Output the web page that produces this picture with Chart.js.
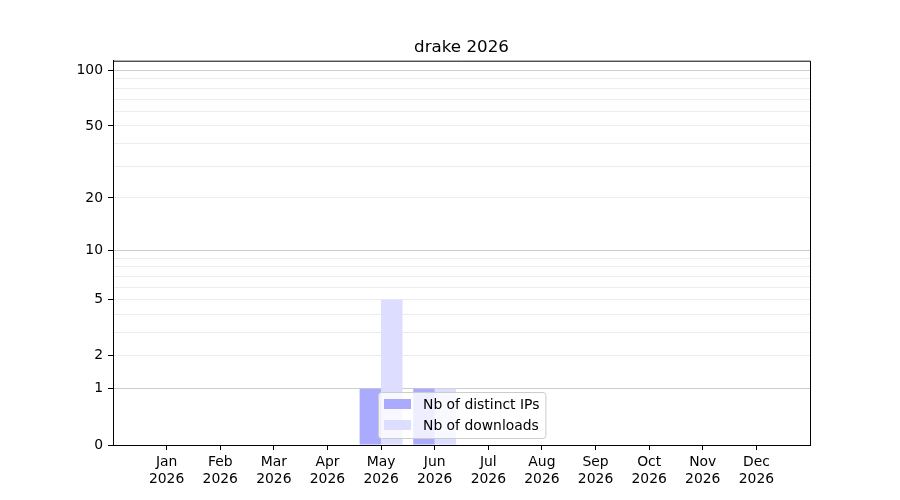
<!DOCTYPE html>
<html>
<head>
<meta charset="utf-8">
<script src="https://cdn.jsdelivr.net/npm/chart.js@4/dist/chart.umd.min.js"></script>
<style>
  body { margin: 0; background: #fff; }
  #wrap { width: 900px; height: 500px; }
</style>
</head>
<body>
<div id="wrap"><canvas id="chart" width="900" height="500"></canvas></div>
<script>
// chart data
const months = ['Jan', 'Feb', 'Mar', 'Apr', 'May', 'Jun', 'Jul', 'Aug', 'Sep', 'Oct', 'Nov', 'Dec'];
const year = '2026';
const title = 'drake 2026';
const distinctIps = [0, 0, 0, 0, 1, 1, 0, 0, 0, 0, 0, 0];
const downloads = [0, 0, 0, 0, 5, 1, 0, 0, 0, 0, 0, 0];
const yTicks = [0, 1, 2, 3, 4, 5, 6, 7, 8, 9, 10, 20, 30, 40, 50, 60, 70, 80, 90, 100];
const yLabelled = [0, 1, 2, 5, 10, 20, 50, 100];
const yMajorGrid = [1, 10, 100];
const yMax = 113;

const FONT = '"DejaVu Sans", sans-serif';

// y axis of matplotlib's look: position goes with log10(1 + v)
const LinearScale = Chart.LinearScale || Chart.scales.LinearScale;
class Log1pScale extends LinearScale {
    buildTicks() {
        return yTicks.map(v => ({ value: v }));
    }
    configure() {
        super.configure();
        this._tStart = Math.log10(1 + this.min);
        this._tRange = Math.log10(1 + this.max) - this._tStart;
    }
    getPixelForValue(value) {
        return this.getPixelForDecimal((Math.log10(1 + value) - this._tStart) / this._tRange);
    }
    getValueForPixel(pixel) {
        return Math.pow(10, this._tStart + this.getDecimalForPixel(pixel) * this._tRange) - 1;
    }
}
Log1pScale.id = 'log1p';
Log1pScale.defaults = LinearScale.defaults;
Chart.register(Log1pScale);

// title centred over the plot, plus top and right spines
const frame = {
    id: 'frame',
    afterDatasetsDraw(chart) {
        const { ctx, chartArea: a } = chart;
        ctx.save();
        ctx.strokeStyle = '#000';
        ctx.lineWidth = 1;
        ctx.beginPath();
        ctx.moveTo(a.left, a.top + 0.5);
        ctx.lineTo(a.right + 0.5, a.top + 0.5);
        ctx.lineTo(a.right + 0.5, a.bottom);
        ctx.stroke();
        ctx.fillStyle = '#000';
        ctx.font = '16.7px ' + FONT;
        ctx.textAlign = 'center';
        ctx.textBaseline = 'alphabetic';
        ctx.fillText(title, (a.left + a.right) / 2, a.top - 8.5);
        ctx.restore();
    }
};

// legend inside the plot, like matplotlib's boxed legend
const boxLegend = {
    id: 'boxLegend',
    afterDraw(chart) {
        const { ctx, chartArea: a } = chart;
        const sets = chart.data.datasets;
        ctx.save();
        ctx.font = '13.9px ' + FONT;
        const textW = Math.max(...sets.map(d => ctx.measureText(d.label).width));
        const rowH = 21;
        const w = 6 + 27 + 12 + textW + 6;
        const h = 46;
        const x = a.left + 265;
        const y = a.bottom - 7 - h;
        ctx.fillStyle = 'rgba(255,255,255,0.8)';
        ctx.strokeStyle = '#cccccc';
        ctx.lineWidth = 1;
        ctx.beginPath();
        ctx.roundRect(x + 0.5, y + 0.5, w, h, 3);
        ctx.fill();
        ctx.stroke();
        sets.forEach((d, i) => {
            const cy = y + 12 + i * rowH;
            ctx.fillStyle = d.backgroundColor;
            ctx.fillRect(x + 6, cy - 5, 27, 10);
            ctx.fillStyle = '#000';
            ctx.textBaseline = 'middle';
            ctx.fillText(d.label, x + 6 + 27 + 12, cy + 1);
        });
        ctx.restore();
    }
};

new Chart(document.getElementById('chart'), {
    type: 'bar',
    data: {
        datasets: [{
            label: 'Nb of distinct IPs',
            data: distinctIps.map((v, i) => ({ x: i, y: v })),
            backgroundColor: '#aaaaff'
        }, {
            label: 'Nb of downloads',
            data: downloads.map((v, i) => ({ x: i, y: v })),
            backgroundColor: '#ddddff'
        }]
    },
    options: {
        responsive: false,
        animation: false,
        layout: { padding: { left: 0, right: 90, top: 60.7, bottom: 0 } },
        datasets: { bar: { categoryPercentage: 0.8, barPercentage: 1.0, borderWidth: 0 } },
        plugins: {
            legend: { display: false },
            tooltip: { enabled: false },
            title: { display: false }
        },
        scales: {
            x: {
                type: 'linear',
                min: -1,
                max: 12,
                offset: false,
                afterBuildTicks: s => { s.ticks = months.map((m, i) => ({ value: i })); },
                afterFit: s => { s.height = 55; },
                grid: { display: true, offset: false, drawOnChartArea: false, drawTicks: true, tickLength: 5, color: '#000' },
                border: { display: true, color: '#000', width: 1 },
                ticks: {
                    autoSkip: false,
                    maxRotation: 0,
                    padding: 4,
                    color: '#000',
                    font: { family: FONT, size: 13.9 },
                    callback: v => [months[v], year]
                }
            },
            y: {
                type: 'log1p',
                min: 0,
                max: yMax,
                z: 1,
                afterFit: s => { s.width = 113; },
                grid: {
                    tickLength: 5,
                    color: c => c.tick.value === 0 ? 'rgba(0,0,0,0)' : (yMajorGrid.includes(c.tick.value) ? '#cccccc' : '#ececec'),
                    tickColor: c => yLabelled.includes(c.tick.value) ? '#000' : 'rgba(0,0,0,0)'
                },
                border: { display: true, color: '#000', width: 1 },
                ticks: {
                    autoSkip: false,
                    padding: 5,
                    color: '#000',
                    font: { family: FONT, size: 13.9 },
                    callback: v => yLabelled.includes(v) ? String(v) : ''
                }
            }
        }
    },
    plugins: [frame, boxLegend]
});
</script>
</body>
</html>
